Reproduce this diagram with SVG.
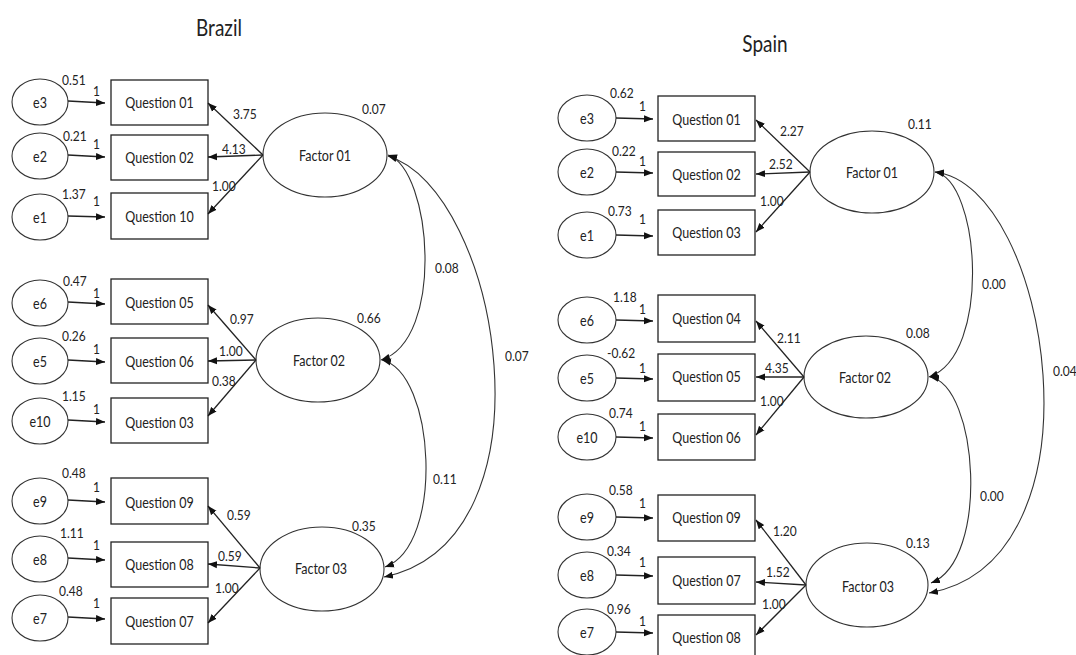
<svg xmlns="http://www.w3.org/2000/svg" width="1076" height="655" viewBox="0 0 1076 655">
<defs>
<style>
.box{fill:#fff;stroke:#222;stroke-width:1.3}
.ell{fill:#fff;stroke:#333;stroke-width:1.1}
text{font-family:Lato,"Liberation Sans",sans-serif;fill:#222;transform-box:fill-box;transform-origin:center;transform:scaleY(1.18)}
.lbl{font-size:12.5px;text-anchor:middle}
.num{font-size:12px;text-anchor:start}
.title{font-size:19px;text-anchor:middle}
.arr{fill:none;stroke:#222;stroke-width:1.3;marker-end:url(#ah)}
.cov{fill:none;stroke:#333;stroke-width:1.1;marker-start:url(#ah);marker-end:url(#ah)}
</style>
<marker id="ah" markerUnits="userSpaceOnUse" markerWidth="10" markerHeight="8" refX="9" refY="4" orient="auto-start-reverse">
<path d="M0,0.5 L9,4 L0,7.5 z" fill="#111"/>
</marker>
</defs>
<rect width="1076" height="655" fill="#fff"/>

<text class="title" x="219" y="35">Brazil</text>
<text class="title" x="765" y="51">Spain</text>

<!-- ===== Brazil nodes ===== -->
<g id="br-e3"><ellipse class="ell" cx="40" cy="102" rx="28" ry="23"/><text class="lbl" x="40" y="107">e3</text><text class="num" x="62" y="84">0.51</text></g>
<g id="br-e2"><ellipse class="ell" cx="40" cy="156" rx="28" ry="23"/><text class="lbl" x="40" y="161">e2</text><text class="num" x="63" y="140">0.21</text></g>
<g id="br-e1"><ellipse class="ell" cx="40" cy="217" rx="28" ry="23"/><text class="lbl" x="40" y="222">e1</text><text class="num" x="62" y="198">1.37</text></g>
<g id="br-e6"><ellipse class="ell" cx="40" cy="303" rx="28" ry="23"/><text class="lbl" x="40" y="308">e6</text><text class="num" x="63" y="285">0.47</text></g>
<g id="br-e5"><ellipse class="ell" cx="40" cy="361" rx="28" ry="23"/><text class="lbl" x="40" y="366">e5</text><text class="num" x="62" y="340">0.26</text></g>
<g id="br-e10"><ellipse class="ell" cx="40" cy="421" rx="28" ry="23"/><text class="lbl" x="40" y="426">e10</text><text class="num" x="62" y="400">1.15</text></g>
<g id="br-e9"><ellipse class="ell" cx="40" cy="501" rx="28" ry="23"/><text class="lbl" x="40" y="506">e9</text><text class="num" x="62" y="477">0.48</text></g>
<g id="br-e8"><ellipse class="ell" cx="40" cy="559" rx="28" ry="23"/><text class="lbl" x="40" y="564">e8</text><text class="num" x="60" y="537">1.11</text></g>
<g id="br-e7"><ellipse class="ell" cx="40" cy="618" rx="28" ry="23"/><text class="lbl" x="40" y="623">e7</text><text class="num" x="59" y="595">0.48</text></g>

<g id="br-q01"><rect class="box" x="111" y="80" width="97" height="45"/><text class="lbl" x="159.5" y="107">Question 01</text></g>
<g id="br-q02"><rect class="box" x="111" y="135" width="97" height="45"/><text class="lbl" x="159.5" y="162">Question 02</text></g>
<g id="br-q10"><rect class="box" x="111" y="193" width="97" height="46"/><text class="lbl" x="159.5" y="221">Question 10</text></g>
<g id="br-q05"><rect class="box" x="111" y="279" width="97" height="45"/><text class="lbl" x="159.5" y="307">Question 05</text></g>
<g id="br-q06"><rect class="box" x="111" y="338" width="97" height="45"/><text class="lbl" x="159.5" y="366">Question 06</text></g>
<g id="br-q03"><rect class="box" x="111" y="398" width="97" height="45"/><text class="lbl" x="159.5" y="427">Question 03</text></g>
<g id="br-q09"><rect class="box" x="111" y="478" width="97" height="46"/><text class="lbl" x="159.5" y="507">Question 09</text></g>
<g id="br-q08"><rect class="box" x="111" y="542" width="97" height="45"/><text class="lbl" x="159.5" y="569">Question 08</text></g>
<g id="br-q07"><rect class="box" x="111" y="598" width="97" height="46"/><text class="lbl" x="159.5" y="626">Question 07</text></g>

<g id="br-f1"><ellipse class="ell" cx="325" cy="155" rx="62" ry="42"/><text class="lbl" x="325" y="160">Factor 01</text><text class="num" x="362" y="113">0.07</text></g>
<g id="br-f2"><ellipse class="ell" cx="318" cy="360" rx="62" ry="42"/><text class="lbl" x="319" y="365">Factor 02</text><text class="num" x="357" y="322">0.66</text></g>
<g id="br-f3"><ellipse class="ell" cx="322" cy="569" rx="62" ry="42"/><text class="lbl" x="321" y="573">Factor 03</text><text class="num" x="352" y="530">0.35</text></g>

<!-- ===== Spain nodes ===== -->
<g id="es-e3"><ellipse class="ell" cx="587" cy="118" rx="29" ry="23"/><text class="lbl" x="587" y="123">e3</text><text class="num" x="610" y="97">0.62</text></g>
<g id="es-e2"><ellipse class="ell" cx="587" cy="172" rx="29" ry="23"/><text class="lbl" x="587" y="177">e2</text><text class="num" x="612" y="155">0.22</text></g>
<g id="es-e1"><ellipse class="ell" cx="587" cy="235" rx="29" ry="23"/><text class="lbl" x="587" y="240">e1</text><text class="num" x="608" y="215">0.73</text></g>
<g id="es-e6"><ellipse class="ell" cx="587" cy="320" rx="29" ry="23"/><text class="lbl" x="587" y="325">e6</text><text class="num" x="613" y="301">1.18</text></g>
<g id="es-e5"><ellipse class="ell" cx="587" cy="378" rx="29" ry="23"/><text class="lbl" x="587" y="383">e5</text><text class="num" x="607" y="357">-0.62</text></g>
<g id="es-e10"><ellipse class="ell" cx="587" cy="437" rx="29" ry="23"/><text class="lbl" x="587" y="442">e10</text><text class="num" x="609" y="417">0.74</text></g>
<g id="es-e9"><ellipse class="ell" cx="587" cy="517" rx="29" ry="23"/><text class="lbl" x="587" y="522">e9</text><text class="num" x="609" y="494">0.58</text></g>
<g id="es-e8"><ellipse class="ell" cx="587" cy="575" rx="29" ry="23"/><text class="lbl" x="587" y="580">e8</text><text class="num" x="607" y="555">0.34</text></g>
<g id="es-e7"><ellipse class="ell" cx="587" cy="632" rx="29" ry="23"/><text class="lbl" x="587" y="637">e7</text><text class="num" x="607" y="613">0.96</text></g>

<g id="es-q01"><rect class="box" x="658" y="96" width="97" height="45"/><text class="lbl" x="706.5" y="124">Question 01</text></g>
<g id="es-q02"><rect class="box" x="658" y="152" width="97" height="44"/><text class="lbl" x="706.5" y="179">Question 02</text></g>
<g id="es-q03"><rect class="box" x="658" y="210" width="97" height="45"/><text class="lbl" x="706.5" y="237">Question 03</text></g>
<g id="es-q04"><rect class="box" x="658" y="295" width="97" height="47"/><text class="lbl" x="706.5" y="323">Question 04</text></g>
<g id="es-q05"><rect class="box" x="658" y="354" width="97" height="47"/><text class="lbl" x="706.5" y="381">Question 05</text></g>
<g id="es-q06"><rect class="box" x="658" y="414" width="97" height="46"/><text class="lbl" x="706.5" y="442">Question 06</text></g>
<g id="es-q09"><rect class="box" x="658" y="495" width="97" height="46"/><text class="lbl" x="706.5" y="522">Question 09</text></g>
<g id="es-q07"><rect class="box" x="658" y="557" width="97" height="47"/><text class="lbl" x="706.5" y="585">Question 07</text></g>
<g id="es-q08"><rect class="box" x="658" y="615" width="97" height="46"/><text class="lbl" x="706.5" y="642">Question 08</text></g>

<g id="es-f1"><ellipse class="ell" cx="872" cy="172" rx="62" ry="41"/><text class="lbl" x="872" y="177">Factor 01</text><text class="num" x="908" y="128">0.11</text></g>
<g id="es-f2"><ellipse class="ell" cx="866" cy="377" rx="62" ry="41"/><text class="lbl" x="865" y="382">Factor 02</text><text class="num" x="906" y="337">0.08</text></g>
<g id="es-f3"><ellipse class="ell" cx="867" cy="585" rx="61" ry="42"/><text class="lbl" x="868" y="591">Factor 03</text><text class="num" x="906" y="547">0.13</text></g>

<!-- ===== Connectors ===== -->
<g id="connectors">
<!-- Brazil error paths -->
<path class="arr" d="M68,101 L105,103"/>
<path class="arr" d="M68,155 L105,157"/>
<path class="arr" d="M68,216 L105,217"/>
<path class="arr" d="M68,302 L105,304"/>
<path class="arr" d="M68,360 L105,362"/>
<path class="arr" d="M68,420 L105,422"/>
<path class="arr" d="M68,500 L105,502"/>
<path class="arr" d="M68,558 L105,560"/>
<path class="arr" d="M68,617 L105,619"/>
<!-- Brazil loadings -->
<path class="arr" d="M263,155 L208,103"/>
<path class="arr" d="M263,155 L208,157"/>
<path class="arr" d="M263,155 L208,214"/>
<path class="arr" d="M256,360 L208,305"/>
<path class="arr" d="M256,360 L208,361"/>
<path class="arr" d="M256,360 L208,416"/>
<path class="arr" d="M260,568 L208,506"/>
<path class="arr" d="M260,568 L208,564"/>
<path class="arr" d="M260,568 L208,623"/>
<!-- Brazil covariances -->
<path class="cov" d="M388,155 C432,170 445,340 381,360"/>
<path class="cov" d="M382,360 C435,372 445,545 385,567"/>
<path class="cov" d="M388,156 C500,190 560,540 384,577"/>
<!-- Spain error paths -->
<path class="arr" d="M616,118 L653,119"/>
<path class="arr" d="M616,172 L653,173"/>
<path class="arr" d="M616,235 L653,236"/>
<path class="arr" d="M616,320 L653,321"/>
<path class="arr" d="M616,378 L653,379"/>
<path class="arr" d="M616,437 L653,438"/>
<path class="arr" d="M616,517 L653,518"/>
<path class="arr" d="M616,575 L653,576"/>
<path class="arr" d="M616,632 L653,633"/>
<!-- Spain loadings -->
<path class="arr" d="M810,172 L756,120"/>
<path class="arr" d="M810,172 L756,174"/>
<path class="arr" d="M810,172 L756,232"/>
<path class="arr" d="M804,377 L756,321"/>
<path class="arr" d="M804,377 L756,377"/>
<path class="arr" d="M804,377 L756,435"/>
<path class="arr" d="M806,585 L756,520"/>
<path class="arr" d="M806,585 L756,582"/>
<path class="arr" d="M806,585 L756,635"/>
<!-- Spain covariances -->
<path class="cov" d="M935,172 C980,180 992,355 929,377"/>
<path class="cov" d="M930,377 C978,385 990,560 931,583"/>
<path class="cov" d="M935,172 C1050,185 1110,560 929,593"/>
<!-- path labels -->
<g id="path-labels">
<text class="num" x="93" y="95">1</text>
<text class="num" x="93" y="148">1</text>
<text class="num" x="93" y="205">1</text>
<text class="num" x="93" y="297">1</text>
<text class="num" x="93" y="353">1</text>
<text class="num" x="93" y="413">1</text>
<text class="num" x="93" y="491">1</text>
<text class="num" x="93" y="549">1</text>
<text class="num" x="93" y="607">1</text>
<text class="num" x="233" y="118">3.75</text>
<text class="num" x="222" y="153">4.13</text>
<text class="num" x="212" y="190">1.00</text>
<text class="num" x="230" y="323">0.97</text>
<text class="num" x="219" y="355">1.00</text>
<text class="num" x="212" y="385">0.38</text>
<text class="num" x="227" y="519">0.59</text>
<text class="num" x="218" y="560">0.59</text>
<text class="num" x="215" y="592">1.00</text>
<text class="num" x="435" y="272">0.08</text>
<text class="num" x="433" y="483">0.11</text>
<text class="num" x="505" y="360">0.07</text>
<text class="num" x="639" y="110">1</text>
<text class="num" x="639" y="165">1</text>
<text class="num" x="639" y="223">1</text>
<text class="num" x="639" y="313">1</text>
<text class="num" x="639" y="372">1</text>
<text class="num" x="639" y="430">1</text>
<text class="num" x="639" y="507">1</text>
<text class="num" x="639" y="566">1</text>
<text class="num" x="639" y="625">1</text>
<text class="num" x="780" y="135">2.27</text>
<text class="num" x="769" y="168">2.52</text>
<text class="num" x="760" y="205">1.00</text>
<text class="num" x="777" y="342">2.11</text>
<text class="num" x="765" y="372">4.35</text>
<text class="num" x="760" y="405">1.00</text>
<text class="num" x="773" y="535">1.20</text>
<text class="num" x="766" y="576">1.52</text>
<text class="num" x="762" y="608">1.00</text>
<text class="num" x="982" y="288">0.00</text>
<text class="num" x="980" y="500">0.00</text>
<text class="num" x="1053" y="375">0.04</text>
</g>
</g>
</svg>
